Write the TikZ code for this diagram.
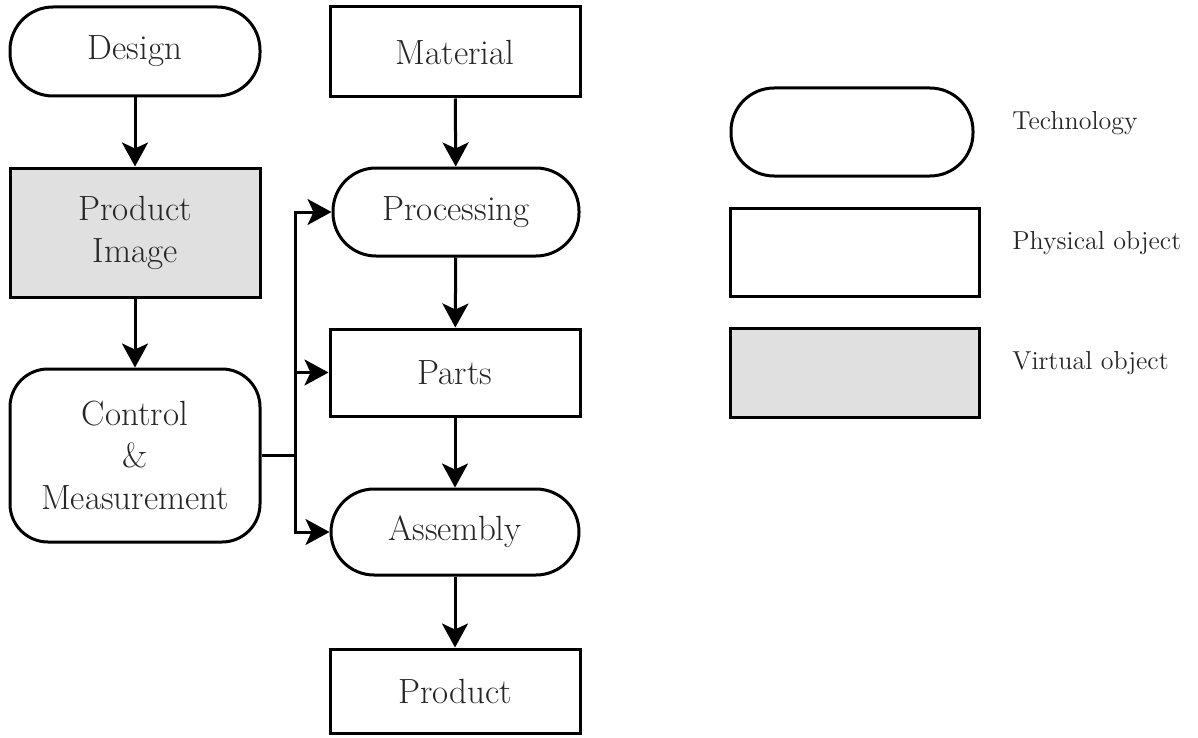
\documentclass[tikz,border=0pt]{standalone}
\usetikzlibrary{arrows.meta}
\definecolor{virt}{RGB}{224,224,224}
\begin{document}
\begin{tikzpicture}[x=0.5pt,y=-0.5pt,
  box/.style={draw,line width=1.5pt,inner sep=0pt,align=center,text=black!85,font=\fontsize{17.5}{21}\selectfont},
  tech/.style={box,rounded corners=21.5pt},
  phys/.style={box},
  virtual/.style={box,fill=virt},
  ctrlbox/.style={box,rounded corners=19pt},
  legtext/.style={anchor=base west,inner sep=0pt,text=black!85,font=\fontsize{13}{15}\selectfont},
  flow/.style={line width=1.5pt,-{Stealth[length=12pt,width=13pt,inset=3pt]}}]
\useasboundingbox (0,0) rectangle (1198,738);
% left column
\node[tech,minimum width=125pt,minimum height=44.5pt] (design) at (135,51.5) {Design};
\node[virtual,minimum width=125pt,minimum height=64.5pt] (pimg) at (135,232.5) {Product\\Image};
\node[ctrlbox,minimum width=125pt,minimum height=86.5pt] (ctrl) at (135,455.5) {Control\\\&\\Measurement};
% middle column
\node[phys,minimum width=125pt,minimum height=45pt] (material) at (455,52) {Material};
\node[tech,minimum width=123pt,minimum height=44pt] (proc) at (456,212) {Processing};
\node[phys,minimum width=125pt,minimum height=43.5pt] (parts) at (455,372.5) {Parts};
\node[tech,minimum width=124pt,minimum height=43pt] (asm) at (455,532) {Assembly};
\node[phys,minimum width=125pt,minimum height=42pt] (product) at (455,691) {Product};
% legend
\node[tech,minimum width=121pt,minimum height=44pt] (ltech) at (852,132) {};
\node[phys,minimum width=124.5pt,minimum height=44pt] (lphys) at (855,252) {};
\node[virtual,minimum width=124.5pt,minimum height=44.5pt] (lvirt) at (855,372.5) {};
\node[legtext] (ttech) at (1012,129) {Technology};
\node[legtext] (tphys) at (1012,249) {Physical object};
\node[legtext] (tvirt) at (1012,369) {Virtual object};
% connectors
\draw[flow] (design) -- (pimg);
\draw[flow] (pimg) -- (ctrl);
\draw[flow] (material) -- (proc);
\draw[flow] (proc) -- (parts);
\draw[flow] (parts) -- (asm);
\draw[flow] (asm) -- (product);
\coordinate (j) at (295,455.5);
\draw[line width=1.5pt] (ctrl.east) -- (j);
\draw[flow] (j) |- (proc.west);
\draw[flow] (j) |- (parts.west);
\draw[flow] (j) |- (asm.west);
\end{tikzpicture}
\end{document}
